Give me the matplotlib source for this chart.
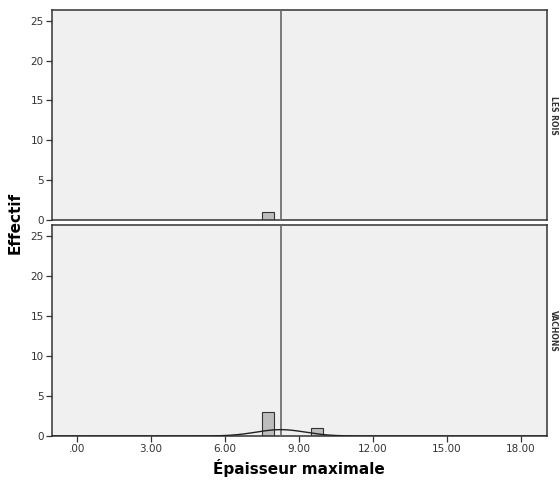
import matplotlib
matplotlib.use("Agg")
import matplotlib.pyplot as plt
import numpy as np

# histogram bins (width 0.5) and counts per group
groups = ["LES ROIS", "VACHONS"]
bin_left = [7.5, 9.5]
counts_rois = [1, 0]
counts_vachons = [3, 1]
bin_width = 0.5

# reference line (mean) and normal curve for VACHONS
mean_line = 8.27
vach_mean = 8.27
vach_sd = 1.0
vach_n = 4

xticks = [0, 3, 6, 9, 12, 15, 18]
xtick_labels = [".00", "3.00", "6.00", "9.00", "12.00", "15.00", "18.00"]
yticks = [0, 5, 10, 15, 20, 25]

bg = "#f0f0f0"
bar_col = "#bdbdbd"
edge = "#333333"
line_col = "#666666"

fig = plt.figure(figsize=(5.6, 4.82), dpi=100)
ax1 = fig.add_axes([0.093, 0.544, 0.883, 0.435])
ax2 = fig.add_axes([0.093, 0.0954, 0.883, 0.4376])

for ax, counts, name in [(ax1, counts_rois, groups[0]), (ax2, counts_vachons, groups[1])]:
    ax.set_facecolor(bg)
    ax.bar(bin_left, counts, width=bin_width, align="edge", color=bar_col,
           edgecolor=edge, linewidth=0.8, zorder=2)
    ax.axvline(mean_line, color=line_col, linewidth=1.2, zorder=3)
    ax.set_xlim(-1.0, 19.05)
    ax.set_ylim(0, 26.35)
    ax.set_yticks(yticks)
    ax.set_xticks(xticks)
    ax.tick_params(axis="both", labelsize=7.5, length=4, width=0.9, color="#333333",
                   labelcolor="#333333", pad=2)
    for s in ax.spines.values():
        s.set_color("#333333")
        s.set_linewidth(1.1)
    ax.text(1.004, 0.5, name, transform=ax.transAxes, rotation=-90,
            ha="left", va="center", fontsize=5.5, fontweight="bold", color="#333333")

ax1.tick_params(axis="x", bottom=False, labelbottom=False)
ax2.set_xticklabels(xtick_labels)

# normal curve
xs = np.linspace(-1.0, 19.05, 400)
pdf = np.exp(-0.5 * ((xs - vach_mean) / vach_sd) ** 2) / (vach_sd * np.sqrt(2 * np.pi))
ax2.plot(xs, pdf * vach_n * bin_width, color="#222222", linewidth=1.0, zorder=4)

ax2.set_xlabel("Épaisseur maximale", fontsize=11, fontweight="bold", labelpad=3)
fig.text(0.027, 0.537, "Effectif", rotation=90, ha="center", va="center",
         fontsize=11, fontweight="bold")

fig.savefig("out.png", dpi=100)
